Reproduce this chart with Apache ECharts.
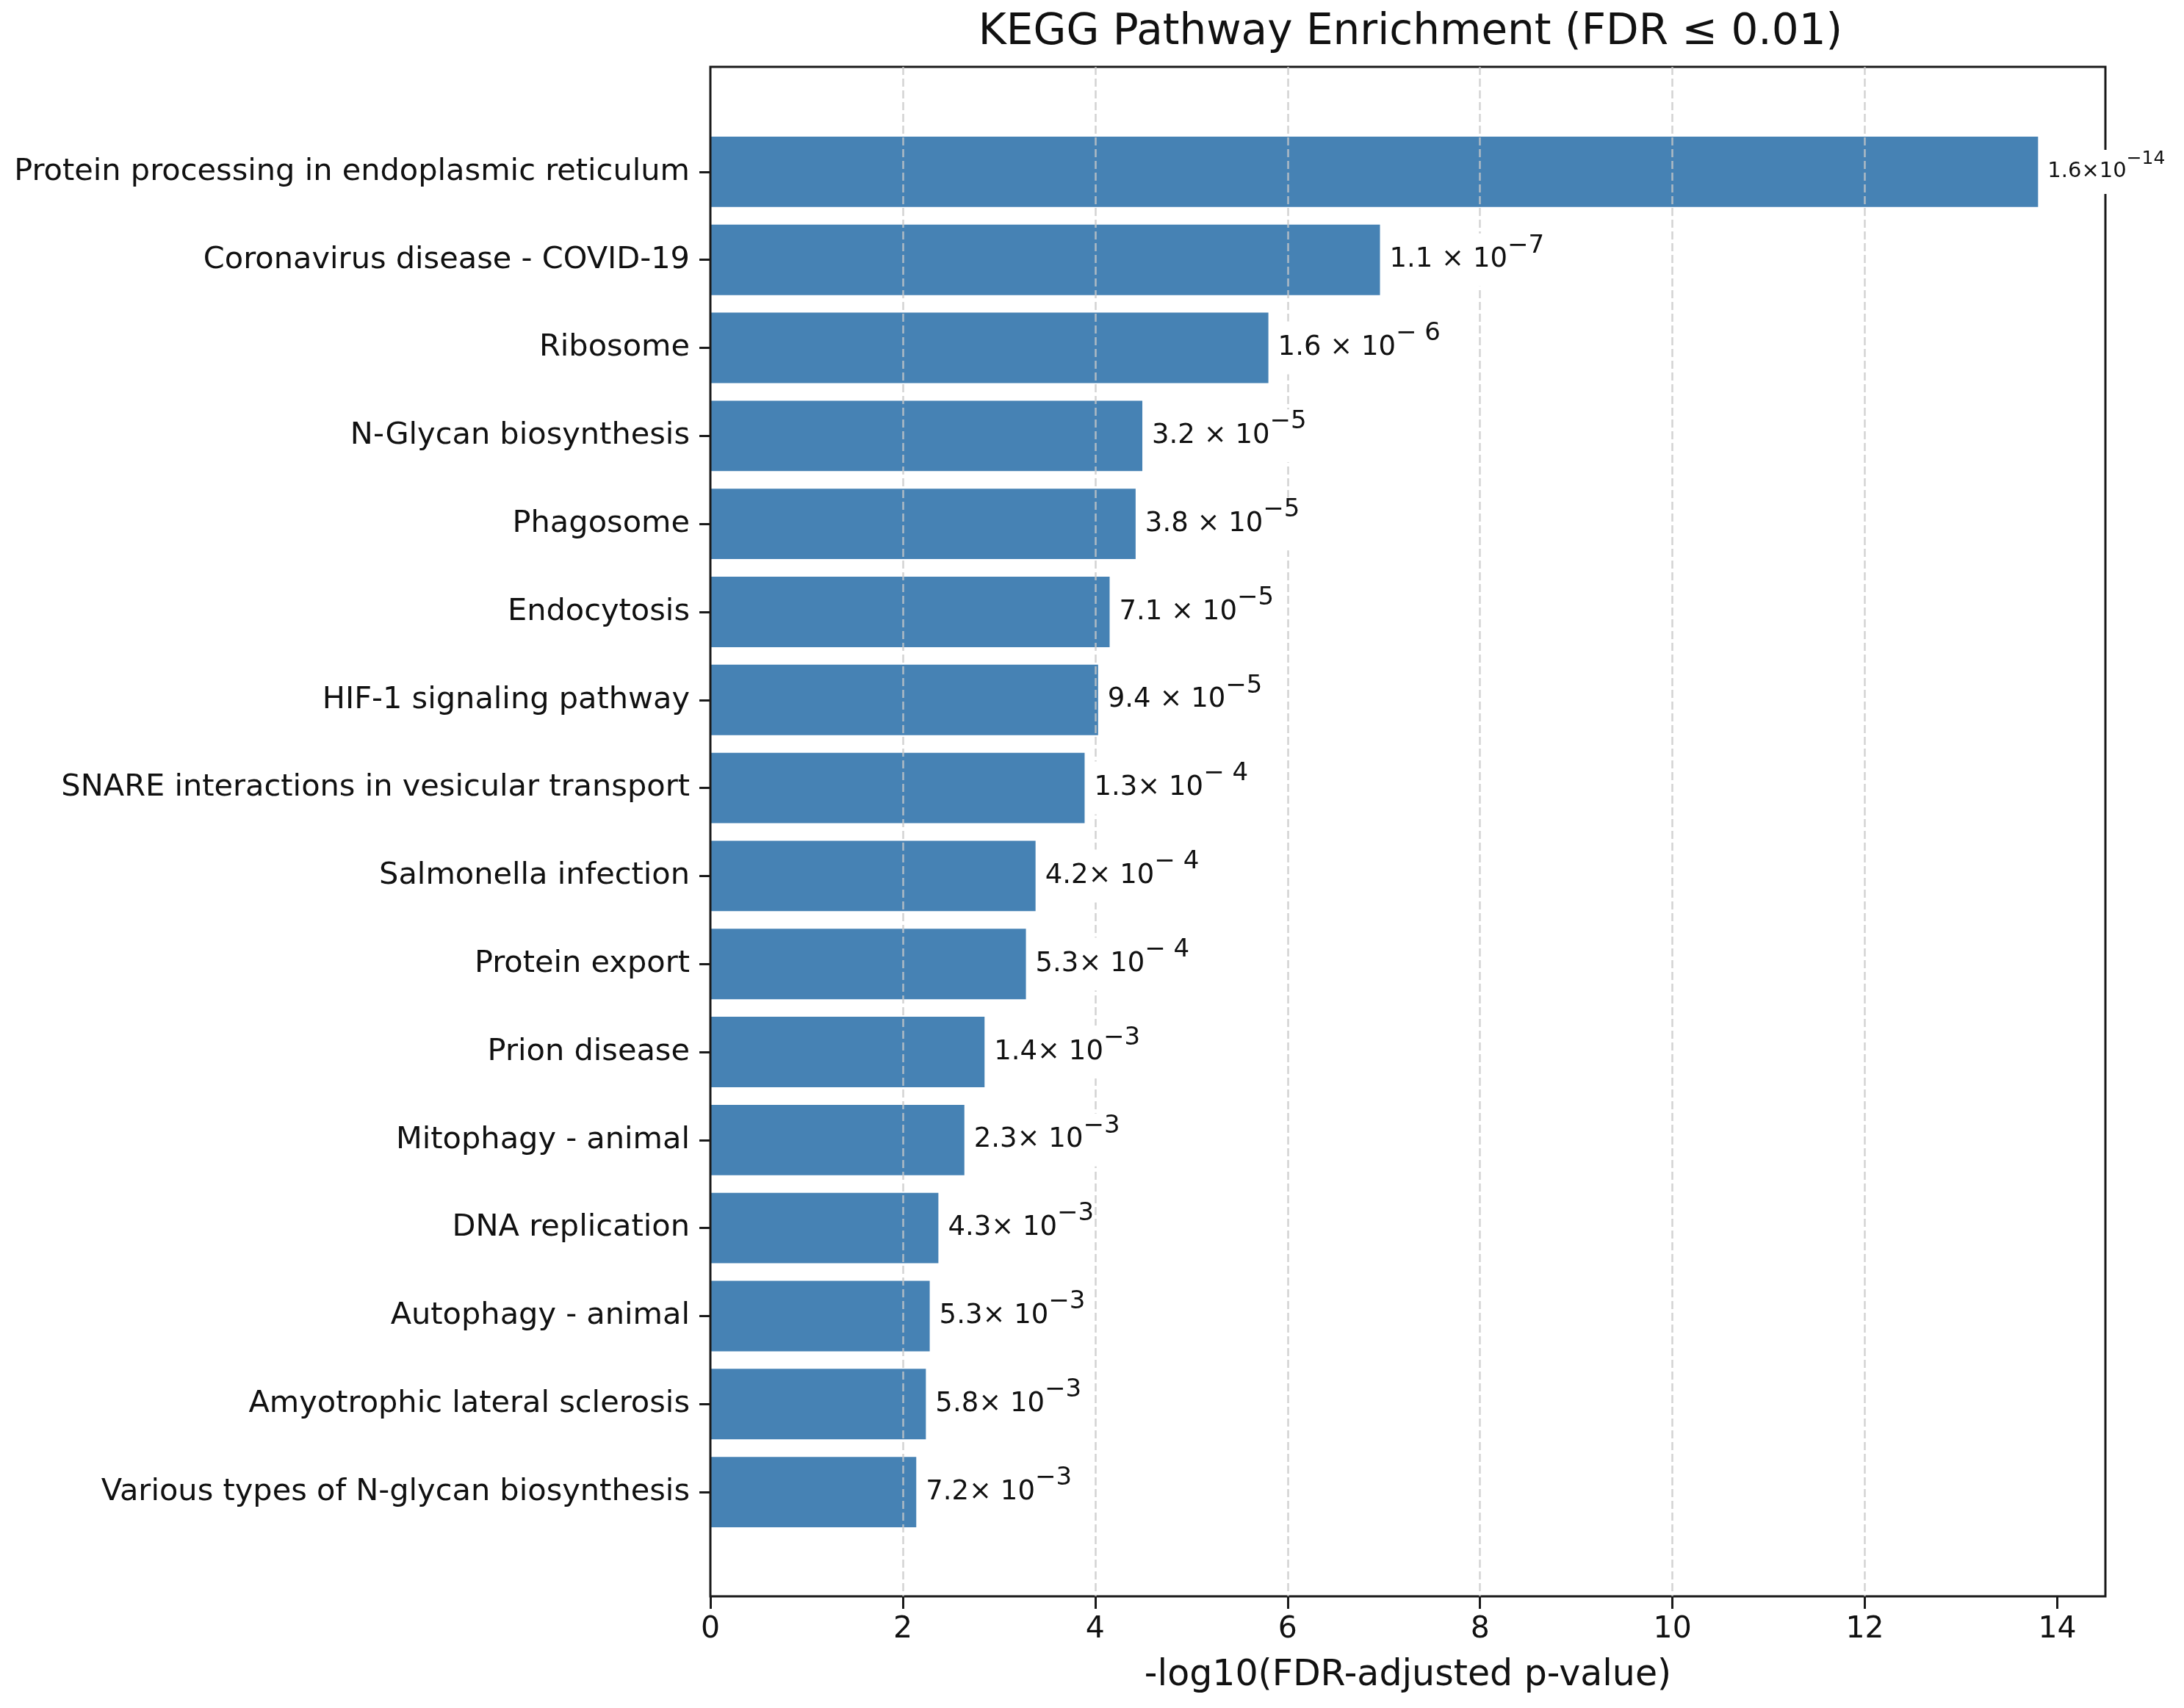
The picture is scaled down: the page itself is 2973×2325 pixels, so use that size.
<!DOCTYPE html>
<html>
<head>
<meta charset="utf-8">
<title>KEGG Pathway Enrichment</title>
<script src="https://cdn.jsdelivr.net/npm/echarts@6/dist/echarts.min.js"></script>
<style>
  html, body { margin: 0; padding: 0; background: #fff; }
  #main { width: 2973px; height: 2325px; }
</style>
</head>
<body>
<div id="main"></div>
<script>
// 通路名称（自上而下）
var pathways = [
  'Protein processing in endoplasmic reticulum',
  'Coronavirus disease - COVID-19',
  'Ribosome',
  'N-Glycan biosynthesis',
  'Phagosome',
  'Endocytosis',
  'HIF-1 signaling pathway',
  'SNARE interactions in vesicular transport',
  'Salmonella infection',
  'Protein export',
  'Prion disease',
  'Mitophagy - animal',
  'DNA replication',
  'Autophagy - animal',
  'Amyotrophic lateral sclerosis',
  'Various types of N-glycan biosynthesis'
];
// -log10(FDR) 柱长
var negLogFdr = [13.80, 6.96, 5.80, 4.49, 4.42, 4.15, 4.03, 3.89, 3.38, 3.28, 2.85, 2.64, 2.37, 2.28, 2.24, 2.14];
// 柱端标注：底数部分与指数部分
var fdrBase = ['1.6×10', '1.1 × 10', '1.6 × 10', '3.2 × 10', '3.8 × 10', '7.1 × 10', '9.4 × 10',
  '1.3× 10', '4.2× 10', '5.3× 10', '1.4× 10', '2.3× 10', '4.3× 10', '5.3× 10', '5.8× 10', '7.2× 10'];
var fdrExp = ['\u221214', '\u22127', '\u2212 6', '\u22125', '\u22125', '\u22125', '\u22125',
  '\u2212 4', '\u2212 4', '\u2212 4', '\u22123', '\u22123', '\u22123', '\u22123', '\u22123', '\u22123'];
// x 轴刻度
var xTicks = [0, 2, 4, 6, 8, 10, 12, 14];
var xMax = 14.5;

var FONT = '"DejaVu Sans", sans-serif';
var chart = echarts.init(document.getElementById('main'), null, { renderer: 'canvas' });

var option = {
  backgroundColor: '#fff',
  animation: false,
  graphic: [{
    type: 'text',
    x: 1920,
    y: 45,
    style: {
      text: 'KEGG Pathway Enrichment (FDR \u2264 0.01)',
      fontFamily: FONT,
      fontSize: 58,
      fill: '#111',
      align: 'center',
      verticalAlign: 'middle'
    }
  }],
  grid: [
    // 外框 + 网格线
    { left: 967, right: 107, top: 91, bottom: 152, show: true, z: 3,
      borderColor: '#1a1a1a', borderWidth: 3, backgroundColor: 'transparent' },
    // 柱子所在区域（与 matplotlib 的边距一致）
    { left: 967, right: 107, top: 174, bottom: 234 }
  ],
  xAxis: [{
    gridIndex: 0,
    type: 'value',
    min: 0,
    max: xMax,
    z: 3,
    name: '-log10(FDR-adjusted p-value)',
    nameLocation: 'middle',
    nameGap: 84,
    nameTextStyle: { fontFamily: FONT, fontSize: 49, color: '#111' },
    axisLine: { show: false },
    axisTick: { show: true, length: 17, customValues: xTicks,
      lineStyle: { color: '#1a1a1a', width: 3 } },
    axisLabel: { customValues: xTicks, margin: 25, fontFamily: FONT, fontSize: 41, color: '#111' },
    splitLine: { show: true, showMinLine: false, showMaxLine: false,
      lineStyle: { color: 'rgba(200,200,200,0.8)', width: 2.5, type: [11, 5] } }
  }, {
    gridIndex: 1,
    type: 'value',
    min: 0,
    max: xMax,
    show: false
  }],
  yAxis: [{
    gridIndex: 1,
    type: 'category',
    inverse: true,
    data: pathways,
    axisLine: { show: false },
    axisTick: { show: true, alignWithLabel: true, length: 15,
      lineStyle: { color: '#1a1a1a', width: 3 } },
    axisLabel: { margin: 28, fontFamily: FONT, fontSize: 41.5, color: '#111' },
    splitLine: { show: false }
  }, {
    gridIndex: 0,
    type: 'value',
    show: false
  }],
  series: [{
    type: 'bar',
    xAxisIndex: 1,
    yAxisIndex: 0,
    z: 2,
    barWidth: '80%',
    itemStyle: { color: '#4682b4' },
    data: negLogFdr
  }, {
    // 透明柱，仅用于放置白底标注（位于网格线之上）
    type: 'bar',
    xAxisIndex: 1,
    yAxisIndex: 0,
    z: 4,
    barWidth: '80%',
    barGap: '-100%',
    itemStyle: { color: 'rgba(0,0,0,0)' },
    label: {
      show: true,
      position: 'right',
      distance: 13,
      backgroundColor: '#fff',
      color: '#111',
      fontFamily: FONT,
      formatter: function (p) {
        var i = p.dataIndex;
        if (i === 0) {
          return '{bs|' + fdrBase[i] + '}{ss|' + fdrExp[i] + '}';
        }
        return '{b|' + fdrBase[i] + '}{s|' + fdrExp[i] + '}';
      },
      rich: {
        b: { fontFamily: FONT, fontSize: 37, lineHeight: 72, color: '#111' },
        s: { fontFamily: FONT, fontSize: 34, lineHeight: 26, verticalAlign: 'top', color: '#111' },
        bs: { fontFamily: FONT, fontSize: 29, lineHeight: 60, color: '#111' },
        ss: { fontFamily: FONT, fontSize: 25, lineHeight: 22, verticalAlign: 'top', color: '#111' }
      }
    },
    data: negLogFdr
  }]
};

chart.setOption(option);
window.onresize = function () {
  chart.resize();
};
</script>
</body>
</html>
